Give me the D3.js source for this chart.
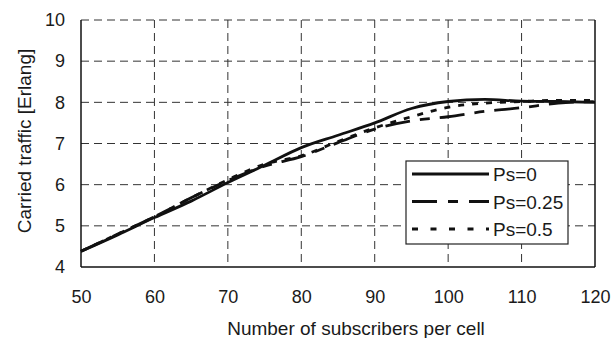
<!DOCTYPE html>
<html><head><meta charset="utf-8">
<script src="https://cdn.jsdelivr.net/npm/d3@7"></script>
<style>body{margin:0;background:#fff;} text{font-family:"Liberation Sans",Arial,sans-serif;fill:#1a1a1a;}</style>
</head><body><svg id="c" width="613" height="338"></svg>
<script>
const subscribers = [50,55,60,65,70,75,80,85,90,95,100,105,110,115,120];
const ps0   = [4.38,4.78,5.2,5.6,6.05,6.47,6.9,7.2,7.5,7.85,8.02,8.07,8.03,8.02,8.0];
const ps025 = [4.38,4.8,5.22,5.68,6.1,6.45,6.68,7.02,7.35,7.55,7.65,7.78,7.87,7.98,8.02];
const ps05  = [4.38,4.8,5.22,5.68,6.12,6.5,6.7,7.05,7.38,7.65,7.88,7.98,8.02,8.05,8.05];
const seriesNames = ["Ps=0","Ps=0.25","Ps=0.5"];
const xTicks = [50,60,70,80,90,100,110,120];
const yTicks = [4,5,6,7,8,9,10];

const svg = d3.select("#c");
const L=81,R=595,T=20,B=267;
const x = d3.scaleLinear().domain([50,120]).range([L,R]);
const y = d3.scaleLinear().domain([4,10]).range([B,T]);

// grid
const g = svg.append("g");
g.selectAll(".vg").data(xTicks.slice(1,-1)).join("line")
 .attr("x1",d=>x(d)).attr("x2",d=>x(d)).attr("y1",T).attr("y2",B)
 .attr("stroke","#333").attr("stroke-width",1).attr("stroke-dasharray","8,5");
g.selectAll(".hg").data(yTicks.slice(1,-1)).join("line")
 .attr("y1",d=>y(d)).attr("y2",d=>y(d)).attr("x1",L).attr("x2",R)
 .attr("stroke","#333").attr("stroke-width",1).attr("stroke-dasharray","8,5");
g.append("line").attr("x1",L).attr("x2",R).attr("y1",T).attr("y2",T)
 .attr("stroke","#333").attr("stroke-width",1).attr("stroke-dasharray","8,5");

// axes
const xAxis = d3.axisBottom(x).tickValues(xTicks).tickFormat(d3.format("d")).tickSize(0).tickPadding(23);
const yAxis = d3.axisLeft(y).tickValues(yTicks).tickFormat(d3.format("d")).tickSize(0).tickPadding(16);
const gx = svg.append("g").attr("transform",`translate(0,${B})`).call(xAxis);
const gy = svg.append("g").attr("transform",`translate(${L},0)`).call(yAxis);
[gx,gy].forEach(a=>{a.attr("font-size",18).attr("font-family","Liberation Sans, Arial, sans-serif");
  a.select(".domain").remove(); a.selectAll("text").attr("fill","#1a1a1a");});
svg.append("line").attr("x1",L).attr("x2",R).attr("y1",B).attr("y2",B).attr("stroke","#111").attr("stroke-width",1.5);
svg.append("line").attr("x1",L).attr("x2",L).attr("y1",T).attr("y2",B).attr("stroke","#111").attr("stroke-width",1.5);
svg.append("line").attr("x1",R).attr("x2",R).attr("y1",T).attr("y2",B).attr("stroke","#111").attr("stroke-width",1.5);

svg.append("text").attr("x",356).attr("y",335).attr("text-anchor","middle").attr("font-size",19).text("Number of subscribers per cell");
svg.append("text").attr("transform",`translate(31,141) rotate(-90)`).attr("text-anchor","middle").attr("font-size",19).text("Carried traffic [Erlang]");

// lines
const dashes = [null,"25,10,10,10","6,8"];
const data = [ps0,ps025,ps05];
const line = d3.line().x((d,i)=>x(subscribers[i])).y(d=>y(d)).curve(d3.curveMonotoneX);
svg.append("g").selectAll("path").data(data).join("path")
 .attr("d",d=>line(d)).attr("fill","none").attr("stroke","#111").attr("stroke-width",2.8)
 .attr("stroke-dasharray",(d,i)=>dashes[i]);

// legend
const lg = svg.append("g");
lg.append("rect").attr("x",406).attr("y",161).attr("width",162).attr("height",83)
 .attr("fill","#fff").attr("stroke","#222").attr("stroke-width",1.2);
const legDash = [null,"25,11,10,11","6,12.5"];
seriesNames.forEach((n,i)=>{
  const yy = 174 + i*27.5;
  lg.append("line").attr("x1",412).attr("x2",489).attr("y1",yy).attr("y2",yy)
   .attr("stroke","#111").attr("stroke-width",3).attr("stroke-dasharray",legDash[i]);
  lg.append("text").attr("x",493).attr("y",yy+7).attr("font-size",19).text(n);
});
</script></body></html>
